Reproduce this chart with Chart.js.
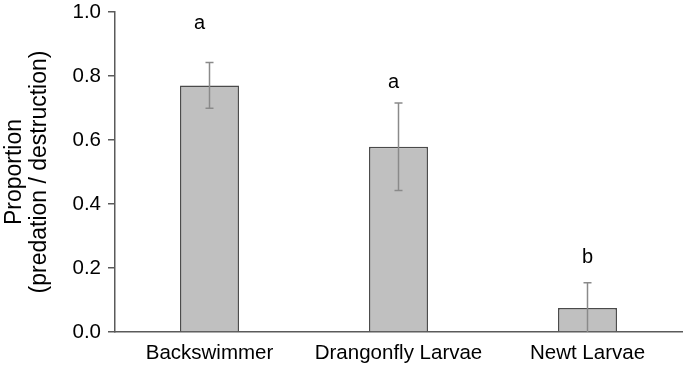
<!DOCTYPE html>
<html>
<head>
<meta charset="utf-8">
<script src="https://cdn.jsdelivr.net/npm/chart.js@4/dist/chart.umd.min.js"></script>
<style>
  html, body { margin: 0; padding: 0; background: #fff; }
  #wrap { width: 685px; height: 368px; }
</style>
</head>
<body>
<div id="wrap"><canvas id="grafico"></canvas></div>
<script>
const categorias = ["Backswimmer", "Drangonfly Larvae", "Newt Larvae"];
const proporcion = [0.77, 0.579, 0.075];
const errorBajo = [0.699, 0.442, 0.0];
const errorAlto = [0.842, 0.716, 0.154];
const letras = ["a", "a", "b"];
const alturaLetras = [0.963, 0.78, 0.232];

const fuente = "'Liberation Sans', Arial, sans-serif";

const pluginErrores = {
    id: "errores",
    afterDatasetsDraw(chart) {
        const ctx = chart.ctx;
        const x = chart.scales.x;
        const y = chart.scales.y;
        ctx.save();
        ctx.strokeStyle = "#8a8a8a";
        ctx.lineWidth = 1.5;
        categorias.forEach((c, i) => {
            const cx = x.getPixelForValue(i);
            const yAlto = y.getPixelForValue(errorAlto[i]);
            const yBajo = y.getPixelForValue(errorBajo[i]);
            ctx.beginPath();
            ctx.moveTo(cx, yAlto);
            ctx.lineTo(cx, yBajo);
            ctx.moveTo(cx - 4, yAlto);
            ctx.lineTo(cx + 4, yAlto);
            if (errorBajo[i] > 0) {
                ctx.moveTo(cx - 4, yBajo);
                ctx.lineTo(cx + 4, yBajo);
            }
            ctx.stroke();
        });
        ctx.fillStyle = "#000";
        ctx.font = "20px " + fuente;
        ctx.textAlign = "center";
        ctx.textBaseline = "middle";
        const desplazamiento = [-10, -5, 0];
        letras.forEach((l, i) => {
            ctx.fillText(l, x.getPixelForValue(i) + desplazamiento[i], y.getPixelForValue(alturaLetras[i]));
        });
        ctx.restore();
    },
};

const configGrafico = {
    type: "bar",
    data: {
        labels: categorias,
        datasets: [
            {
                label: "Proporción",
                data: proporcion,
                backgroundColor: "#c0c0c0",
                borderColor: "#4a4a4a",
                borderWidth: 1.5,
                barPercentage: 1,
                categoryPercentage: 0.312,
            },
        ],
    },
    options: {
        responsive: true,
        maintainAspectRatio: false,
        animation: false,
        layout: {
            padding: { top: 0, right: 3, left: 0, bottom: 0 },
        },
        plugins: {
            legend: { display: false },
            tooltip: { enabled: false },
        },
        scales: {
            x: {
                grid: { display: true, drawOnChartArea: false, drawTicks: false },
                border: { display: true, color: "#5a5a5a", width: 1.5 },
                ticks: {
                    color: "#000",
                    padding: 9,
                    font: { size: 20.5, family: fuente },
                    maxRotation: 0,
                },
                afterFit: (scale) => { scale.height = 36; },
            },
            y: {
                min: 0,
                max: 1,
                ticks: {
                    stepSize: 0.2,
                    color: "#000",
                    padding: 7,
                    font: { size: 20.5, family: fuente },
                    callback: (v) => v.toFixed(1),
                },
                grid: {
                    display: true,
                    drawOnChartArea: false,
                    drawTicks: true,
                    tickLength: 7,
                    color: "#5a5a5a",
                    lineWidth: 1.5,
                },
                border: { display: true, color: "#5a5a5a", width: 1.5 },
                title: {
                    display: true,
                    text: ["Proportion", "(predation / destruction)"],
                    color: "#000",
                    font: { size: 23, family: fuente, lineHeight: 1.087 },
                    padding: { top: 2.5, bottom: 0 },
                },
                afterFit: (scale) => {
                    scale.width = 115;
                    scale.paddingTop = 12;
                },
            },
        },
    },
    plugins: [pluginErrores],
};

const grafico = new Chart(document.getElementById("grafico"), configGrafico);
</script>
</body>
</html>
